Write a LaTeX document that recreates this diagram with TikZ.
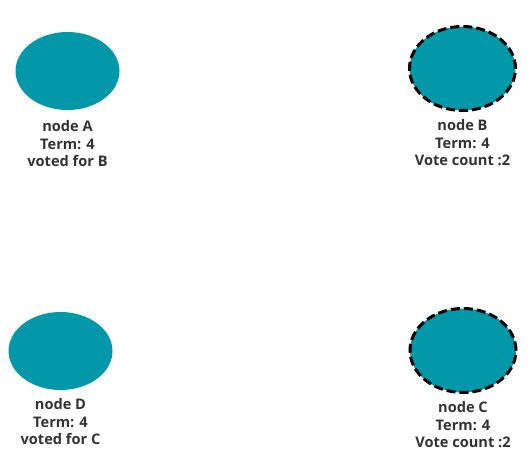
\documentclass[tikz,border=0pt]{standalone}
\usepackage{fontspec}
\setmainfont{Open Sans}
\usetikzlibrary{shapes.geometric, positioning}
\definecolor{nodeteal}{HTML}{0398A9}
\definecolor{labelgray}{HTML}{333333}
\tikzset{
  server/.style={ellipse, fill=nodeteal, inner sep=0pt, minimum width=104pt, minimum height=78pt},
  candidate/.style={server, draw=black, line width=3pt, dash pattern=on 9pt off 4pt, minimum width=106pt, minimum height=84pt},
  info/.style={align=center, text=labelgray, inner sep=0pt, font=\bfseries\fontsize{14.6}{17.5}\selectfont}
}
\begin{document}
\begin{tikzpicture}[x=1pt, y=-1pt]
	\useasboundingbox (0, 0) rectangle (531, 466);
	\node[server] (a) at (67.5, 71) {};
	\node[candidate] (b) at (462.5, 68.5) {};
	\node[candidate] (c) at (463, 350.5) {};
	\node[server] (d) at (60.5, 351) {};
	\node[info, below=10.5pt of a] (a-info) {node A\\Term: 4\\voted for B};
	\node[info, below=7.5pt of b] (b-info) {node B\\Term: 4\\Vote count :2};
	\node[info, below=7.5pt of c] (c-info) {node C\\Term: 4\\Vote count :2};
	\node[info, below=8.5pt of d] (d-info) {node D\\Term: 4\\voted for C};
\end{tikzpicture}
\end{document}
